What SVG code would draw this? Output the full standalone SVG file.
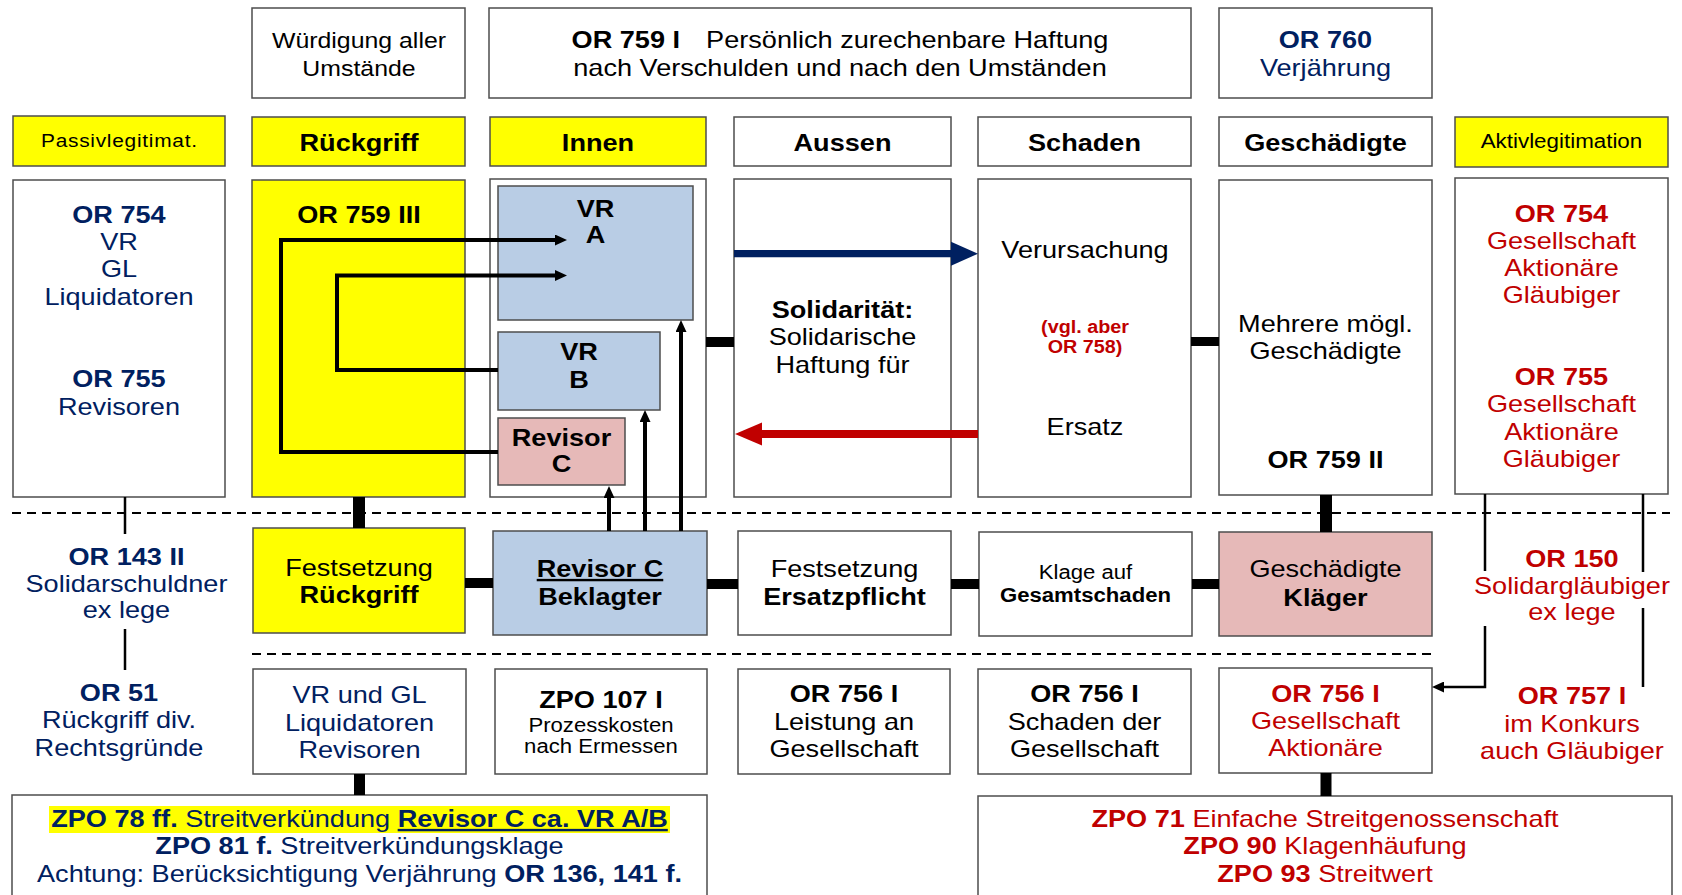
<svg xmlns="http://www.w3.org/2000/svg" width="1682" height="895" viewBox="0 0 1682 895">
<defs>
<style>
text{font-family:"Liberation Sans",Arial,Helvetica,sans-serif;font-size:24px;text-anchor:middle;fill:#000}
.b{font-weight:bold}
.n{fill:#002060}
.r{fill:#C00000}
.box{fill:#fff;stroke:#4d4d4d;stroke-width:1.5}
.y{fill:#FFFF00}
.lb{fill:#B9CDE5}
.pk{fill:#E6B9B8}
.thick{stroke:#000;fill:none}
.loop{stroke:#000;stroke-width:4;fill:none;stroke-linejoin:miter}
.thin{stroke:#000;stroke-width:2.5;fill:none}
.dash{stroke:#000;stroke-width:2;stroke-dasharray:9 6;fill:none}
.u{text-decoration:underline}
.s22{font-size:22px}
.s19{font-size:19.6px}
.s17{font-size:17.5px}
</style>
<marker id="ah" viewBox="0 0 12 11" refX="6" refY="5.5" markerWidth="12" markerHeight="11" markerUnits="userSpaceOnUse" orient="auto"><path d="M0,0L12,5.5L0,11Z" fill="#000"/></marker>
</defs>
<rect width="1682" height="895" fill="#fff"/>

<!-- top row -->
<g id="wuerdigung"><rect class="box" x="252" y="8" width="213" height="90"/><g transform="matrix(1.13 0 0 1 -46.67 0)"><text class="s22" x="359" y="48.5">Würdigung aller</text><text class="s22" x="359" y="76">Umstände</text></g></g>
<g id="or759i"><rect class="box" x="489" y="8" width="702" height="90"/><g transform="matrix(1.13 0 0 1 -109.2 0)"><text x="840" y="48"><tspan class="b">OR 759 I</tspan><tspan dx="23">Persönlich zurechenbare Haftung</tspan></text><text x="840" y="76">nach Verschulden und nach den Umständen</text></g></g>
<g id="or760"><rect class="box" x="1219" y="8" width="213" height="90"/><g transform="matrix(1.13 0 0 1 -172.32 0)"><text class="b n" x="1325.5" y="48">OR 760</text><text class="n" x="1325.5" y="76">Verjährung</text></g></g>

<!-- header row -->
<g id="h-passiv"><rect class="box y" x="13" y="116" width="212" height="50"/><g transform="matrix(1.13 0 0 1 -15.47 0)"><text x="119" y="147" style="font-size:18.5px" textLength="138" lengthAdjust="spacing">Passivlegitimat.</text></g></g>
<g id="h-rueckgriff"><rect class="box y" x="252" y="117" width="213" height="49"/><g transform="matrix(1.13 0 0 1 -46.67 0)"><text class="b" x="359" y="151">Rückgriff</text></g></g>
<g id="h-innen"><rect class="box y" x="490" y="117" width="216" height="49"/><g transform="matrix(1.13 0 0 1 -77.74 0)"><text class="b" x="598" y="151">Innen</text></g></g>
<g id="h-aussen"><rect class="box" x="734" y="117" width="217" height="49"/><g transform="matrix(1.13 0 0 1 -109.53 0)"><text class="b" x="842.5" y="151">Aussen</text></g></g>
<g id="h-schaden"><rect class="box" x="978" y="117" width="213" height="49"/><g transform="matrix(1.13 0 0 1 -140.99 0)"><text class="b" x="1084.5" y="151">Schaden</text></g></g>
<g id="h-geschaedigte"><rect class="box" x="1219" y="117" width="213" height="49"/><g transform="matrix(1.13 0 0 1 -172.32 0)"><text class="b" x="1325.5" y="151">Geschädigte</text></g></g>
<g id="h-aktiv"><rect class="box y" x="1455" y="117" width="213" height="50"/><g transform="matrix(1.13 0 0 1 -203 0)"><text x="1561.5" y="148" style="font-size:19.8px">Aktivlegitimation</text></g></g>

<!-- main row -->
<g id="passiv"><rect class="box" x="13" y="180" width="212" height="317"/><g transform="matrix(1.13 0 0 1 -15.47 0)"><text class="b n" x="119" y="223">OR 754</text><text class="n" x="119" y="250">VR</text><text class="n" x="119" y="277">GL</text><text class="n" x="119" y="305">Liquidatoren</text><text class="b n" x="119" y="387">OR 755</text><text class="n" x="119" y="415">Revisoren</text></g></g>
<g id="rueckgriff"><rect class="box y" x="252" y="180" width="213" height="317"/><g transform="matrix(1.13 0 0 1 -46.67 0)"><text class="b" x="359" y="223">OR 759 III</text></g></g>
<g id="innen"><rect class="box" x="490" y="179" width="216" height="318"/></g>
<g id="vr-a"><rect class="box lb" x="498" y="186" width="195" height="134"/><g transform="matrix(1.13 0 0 1 -77.42 0)"><text class="b" x="595.5" y="217">VR</text><text class="b" x="595.5" y="243">A</text></g></g>
<g id="vr-b"><rect class="box lb" x="498" y="332" width="162" height="78"/><g transform="matrix(1.13 0 0 1 -75.27 0)"><text class="b" x="579" y="360">VR</text><text class="b" x="579" y="388">B</text></g></g>
<g id="revisor-c"><rect class="box pk" x="498" y="418" width="127" height="67"/><g transform="matrix(1.13 0 0 1 -73 0)"><text class="b" x="561.5" y="446">Revisor</text><text class="b" x="561.5" y="472">C</text></g></g>
<g id="aussen"><rect class="box" x="734" y="179" width="217" height="318"/><g transform="matrix(1.13 0 0 1 -109.53 0)"><text class="b" x="842.5" y="318">Solidarität:</text><text x="842.5" y="345">Solidarische</text><text x="842.5" y="373">Haftung für</text></g></g>
<g id="schaden"><rect class="box" x="978" y="179" width="213" height="318"/><g transform="matrix(1.13 0 0 1 -141.05 0)"><text x="1085" y="258">Verursachung</text><text class="b r s17" x="1085" y="333">(vgl. aber</text><text class="b r s17" x="1085" y="353">OR 758)</text><text x="1085" y="435">Ersatz</text></g></g>
<g id="geschaedigte"><rect class="box" x="1219" y="180" width="213" height="315"/><g transform="matrix(1.13 0 0 1 -172.32 0)"><text x="1325.5" y="332">Mehrere mögl.</text><text x="1325.5" y="359">Geschädigte</text><text class="b" x="1325.5" y="468">OR 759 II</text></g></g>
<g id="aktiv"><rect class="box" x="1455" y="178" width="213" height="316"/><g transform="matrix(1.13 0 0 1 -203 0)"><text class="b r" x="1561.5" y="222">OR 754</text><text class="r" x="1561.5" y="249">Gesellschaft</text><text class="r" x="1561.5" y="276">Aktionäre</text><text class="r" x="1561.5" y="303">Gläubiger</text><text class="b r" x="1561.5" y="385">OR 755</text><text class="r" x="1561.5" y="412">Gesellschaft</text><text class="r" x="1561.5" y="440">Aktionäre</text><text class="r" x="1561.5" y="467">Gläubiger</text></g></g>

<!-- middle row -->
<g id="festsetzung-rueckgriff"><rect class="box y" x="253" y="528" width="212" height="105"/><g transform="matrix(1.13 0 0 1 -46.67 0)"><text x="359" y="576">Festsetzung</text><text class="b" x="359" y="603">Rückgriff</text></g></g>
<g id="beklagter"><rect class="box lb" x="493" y="531" width="214" height="104"/><g transform="matrix(1.13 0 0 1 -78 0)"><text class="b u" x="600" y="577">Revisor C</text><text class="b" x="600" y="605">Beklagter</text></g></g>
<g id="ersatzpflicht"><rect class="box" x="738" y="531" width="213" height="104"/><g transform="matrix(1.13 0 0 1 -109.79 0)"><text x="844.5" y="577">Festsetzung</text><text class="b" x="844.5" y="605">Ersatzpflicht</text></g></g>
<g id="klage"><rect class="box" x="979" y="532" width="213" height="104"/><g transform="matrix(1.13 0 0 1 -141.12 0)"><text class="s19" x="1085.5" y="579">Klage auf</text><text class="b s19" x="1085.5" y="602">Gesamtschaden</text></g></g>
<g id="klaeger"><rect class="box pk" x="1219" y="532" width="213" height="104"/><g transform="matrix(1.13 0 0 1 -172.32 0)"><text x="1325.5" y="577">Geschädigte</text><text class="b" x="1325.5" y="606">Kläger</text></g></g>
<g id="solidarschuldner"><g transform="matrix(1.13 0 0 1 -16.45 0)"><text class="b n" x="126.5" y="565">OR 143 II</text><text class="n" x="126.5" y="592">Solidarschuldner</text><text class="n" x="126.5" y="618">ex lege</text></g></g>
<g id="solidarglaeubiger"><g transform="matrix(1.13 0 0 1 -204.36 0)"><text class="b r" x="1572" y="567">OR 150</text><text class="r" x="1572" y="594">Solidargläubiger</text><text class="r" x="1572" y="620">ex lege</text></g></g>

<!-- bottom row -->
<g id="or51"><g transform="matrix(1.13 0 0 1 -15.47 0)"><text class="b n" x="119" y="701">OR 51</text><text class="n" x="119" y="728">Rückgriff div.</text><text class="n" x="119" y="756">Rechtsgründe</text></g></g>
<g id="vr-gl"><rect class="box" x="253" y="669" width="213" height="105"/><g transform="matrix(1.13 0 0 1 -46.74 0)"><text class="n" x="359.5" y="703">VR und GL</text><text class="n" x="359.5" y="731">Liquidatoren</text><text class="n" x="359.5" y="758">Revisoren</text></g></g>
<g id="zpo107"><rect class="box" x="495" y="669" width="212" height="105"/><g transform="matrix(1.13 0 0 1 -78.13 0)"><text class="b" x="601" y="708">ZPO 107 I</text><text class="s19" x="601" y="732">Prozesskosten</text><text class="s19" x="601" y="753">nach Ermessen</text></g></g>
<g id="or756-leistung"><rect class="box" x="738" y="669" width="212" height="105"/><g transform="matrix(1.13 0 0 1 -109.72 0)"><text class="b" x="844" y="702">OR 756 I</text><text x="844" y="730">Leistung an</text><text x="844" y="757">Gesellschaft</text></g></g>
<g id="or756-schaden"><rect class="box" x="978" y="669" width="213" height="105"/><g transform="matrix(1.13 0 0 1 -140.99 0)"><text class="b" x="1084.5" y="702">OR 756 I</text><text x="1084.5" y="730">Schaden der</text><text x="1084.5" y="757">Gesellschaft</text></g></g>
<g id="or756-red"><rect class="box" x="1219" y="668" width="213" height="105"/><g transform="matrix(1.13 0 0 1 -172.32 0)"><text class="b r" x="1325.5" y="702">OR 756 I</text><text class="r" x="1325.5" y="729">Gesellschaft</text><text class="r" x="1325.5" y="756">Aktionäre</text></g></g>
<g id="or757"><g transform="matrix(1.13 0 0 1 -204.36 0)"><text class="b r" x="1572" y="704">OR 757 I</text><text class="r" x="1572" y="732">im Konkurs</text><text class="r" x="1572" y="759">auch Gläubiger</text></g></g>

<!-- bottom boxes -->
<g id="streitverkuendung"><rect class="box" x="12" y="795" width="695" height="120"/><rect x="49" y="806" width="621" height="27" fill="#FFFF00"/><g transform="matrix(1.13 0 0 1 -46.74 0)"><text class="n" x="359.5" y="827"><tspan class="b">ZPO 78 ff.</tspan> Streitverkündung <tspan class="b u">Revisor C ca. VR A/B</tspan></text><text class="n" x="359.5" y="854"><tspan class="b">ZPO 81 f.</tspan> Streitverkündungsklage</text><text class="n" x="359.5" y="882">Achtung: Berücksichtigung Verjährung <tspan class="b">OR 136, 141 f.</tspan></text></g></g>
<g id="streitgenossenschaft"><rect class="box" x="978" y="796" width="694" height="120"/><g transform="matrix(1.13 0 0 1 -172.25 0)"><text class="r" x="1325" y="827"><tspan class="b">ZPO 71</tspan> Einfache Streitgenossenschaft</text><text class="r" x="1325" y="854"><tspan class="b">ZPO 90</tspan> Klagenhäufung</text><text class="r" x="1325" y="882"><tspan class="b">ZPO 93</tspan> Streitwert</text></g></g>

<!-- connectors -->
<g id="connectors">
<path class="dash" d="M12,513H1670"/>
<path class="dash" d="M252,654H1432"/>
<path class="thin" d="M125,497V534M125,629V670"/>
<path class="thin" d="M1485,494V571M1643,494V572M1643,608V687"/>
<path class="thin" d="M1485,626V687H1438" marker-end="url(#ah)"/>
<path class="loop" d="M498,452H281V240H561" marker-end="url(#ah)"/>
<path class="loop" d="M498,370H337V275.5H561" marker-end="url(#ah)"/>
<path class="loop" d="M609,531V492" marker-end="url(#ah)"/>
<path class="loop" d="M645,531V416" marker-end="url(#ah)"/>
<path class="loop" d="M681,531V326" marker-end="url(#ah)"/>
<path d="M734,253.7H952" stroke="#002060" stroke-width="7.3" fill="none"/>
<path d="M951,241.7L978,253.7L951,265.7Z" fill="#002060"/>
<path d="M978,434H761" stroke="#C00000" stroke-width="8" fill="none"/>
<path d="M762,422.5L735,434L762,445.5Z" fill="#C00000"/>
<path class="thick" stroke-width="10" d="M706,342H734"/>
<path class="thick" stroke-width="9" d="M1191,341.5H1219"/>
<path class="thick" stroke-width="12" d="M359,497V528"/>
<path class="thick" stroke-width="12" d="M1326,495V532"/>
<path class="thick" stroke-width="10" d="M465,583H493"/>
<path class="thick" stroke-width="10" d="M707,584H738"/>
<path class="thick" stroke-width="10" d="M951,584H979"/>
<path class="thick" stroke-width="10" d="M1192,584H1219"/>
<path class="thick" stroke-width="11" d="M359.5,774V795"/>
<path class="thick" stroke-width="11" d="M1326,773V796"/>
</g>
</svg>
